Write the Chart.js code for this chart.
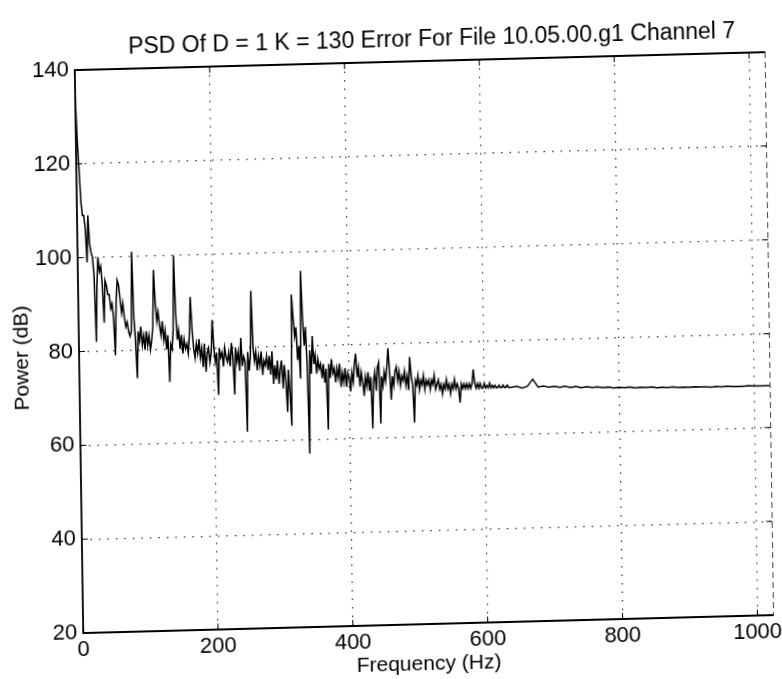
<!DOCTYPE html>
<html>
<head>
<meta charset="utf-8">
<script src="https://cdn.jsdelivr.net/npm/chart.js@4.4.1/dist/chart.umd.min.js"></script>
<style>
  html, body { margin: 0; padding: 0; background: #fff; overflow: hidden; }
  /* the scan is slightly rotated/sheared */
  #wrap { width: 782px; height: 679px; transform: matrix(1, -0.026, 0.015, 1, 0, 0); }
</style>
</head>
<body>
<div id="wrap"><canvas id="chart" width="782" height="679"></canvas></div>
<script>
// PSD, 2 Hz steps from 0 to 638 Hz
const lowStepHz = 2;
const powerLow = [
  134, 125, 119, 112, 109, 109, 106, 99, 109, 103,
  101, 100, 96, 82, 94, 100, 97, 98, 94, 86,
  95, 94, 92, 92, 89, 90, 87, 79, 90, 95,
  94, 91, 88, 90, 87, 85, 86, 84, 83, 84,
  101, 87, 82, 74, 84, 82, 85, 81, 83, 80,
  84, 81, 83, 80, 82, 85, 97, 90, 86, 88,
  85, 83, 86, 82, 84, 80, 83, 73, 81, 80,
  84, 100, 88, 82, 84, 80, 83, 79, 82, 80,
  81, 79, 83, 91, 84, 80, 78, 81, 79, 82,
  78, 80, 76, 81, 75, 79, 80, 77, 79, 86,
  80, 77, 79, 70, 80, 78, 79, 76, 80, 78,
  77, 79, 76, 81, 78, 70, 80, 77, 79, 75,
  82, 76, 78, 77, 62, 79, 75, 78, 92, 80,
  77, 79, 75, 78, 76, 79, 74, 77, 76, 78,
  75, 78, 74, 79, 72, 76, 73, 77, 72, 75,
  77, 71, 76, 73, 66, 75, 70, 63, 91, 86,
  82, 84, 77, 80, 73, 96, 86, 80, 84, 76,
  57, 79, 74, 82, 76, 78, 74, 77, 75, 76,
  73, 76, 72, 75, 62, 76, 73, 77, 74, 75,
  72, 75, 73, 76, 71, 74, 72, 75, 71, 74,
  73, 70, 74, 72, 76, 78, 73, 75, 71, 74,
  72, 69, 73, 71, 74, 70, 73, 62, 72, 74,
  70, 75, 76, 63, 73, 71, 74, 72, 75, 79,
  74, 68, 73, 71, 74, 75, 72, 74, 71, 73,
  72, 74, 71, 73, 70, 77, 73, 71, 63, 72,
  71, 73, 70, 72, 71, 73, 70, 72, 71, 72,
  70, 72, 71, 73, 70, 71, 72, 70, 71, 69,
  71, 70, 72, 70, 71, 69, 71, 70, 72, 70,
  71, 70, 67, 71, 70, 71, 70, 71, 70, 71,
  70, 71, 74, 71, 70, 71, 70, 71, 70, 70,
  71, 70, 70.5, 70, 71, 70, 70.5, 70, 70.5, 70,
  70, 70.5, 70, 70, 70.5, 70, 70, 70.5, 70, 70
];
// flat tail, 8 Hz steps from 640 to 1024 Hz
const highStartHz = 640;
const highStepHz = 8;
const powerHigh = [
  70, 70.2, 69.8, 70.1, 71.6, 69.9, 70.1, 69.8, 70, 69.7,
  69.9, 69.6, 69.8, 69.5, 69.7, 69.5, 69.6, 69.4, 69.5, 69.3,
  69.4, 69.3, 69.4, 69.2, 69.3, 69.2, 69.3, 69.1, 69.2, 69.1,
  69.2, 69.0, 69.1, 69.0, 69.1, 69.0, 69.0, 68.9, 69.0, 68.9,
  69.0, 68.9, 68.9, 68.9, 69.0, 68.9, 68.9, 68.9, 68.9
];
const xTicks = [0, 200, 400, 600, 800, 1000];
const yTicks = [20, 40, 60, 80, 100, 120, 140];

const titleText = 'PSD Of D = 1 K = 130 Error For File 10.05.00.g1 Channel 7';
const xLabel = 'Frequency (Hz)';
const yLabel = 'Power (dB)';

const points = powerLow.map((p, i) => ({x: i * lowStepHz, y: p}))
  .concat(powerHigh.map((p, i) => ({x: highStartHz + i * highStepHz, y: p})));

const FONT = '"Liberation Sans", Arial, sans-serif';

// frame box, inner ticks + titles, matlab style
const decor = {
  id: 'decor',
  afterDatasetsDraw(chart) {
    const {ctx, chartArea: a, scales} = chart;
    ctx.save();
    ctx.strokeStyle = '#000';
    ctx.lineWidth = 1.8;
    ctx.beginPath();
    ctx.moveTo(a.right, a.top);
    ctx.lineTo(a.left, a.top);
    ctx.lineTo(a.left, a.bottom);
    ctx.lineTo(a.right, a.bottom);
    ctx.stroke();
    // inner tick marks
    ctx.lineWidth = 1;
    ctx.beginPath();
    xTicks.forEach(v => {
      const px = scales.x.getPixelForValue(v);
      ctx.moveTo(px, a.bottom); ctx.lineTo(px, a.bottom - 6);
      ctx.moveTo(px, a.top); ctx.lineTo(px, a.top + 6);
    });
    yTicks.forEach(v => {
      const py = scales.y.getPixelForValue(v);
      ctx.moveTo(a.left, py); ctx.lineTo(a.left + 6, py);
      ctx.moveTo(a.right, py); ctx.lineTo(a.right - 6, py);
    });
    ctx.stroke();
    ctx.strokeStyle = '#444';
    ctx.setLineDash([6, 4]);
    ctx.beginPath();
    ctx.moveTo(a.right, a.top);
    ctx.lineTo(a.right, a.bottom);
    ctx.stroke();
    ctx.restore();
  },
  afterDraw(chart) {
    const {ctx, chartArea: a} = chart;
    const cx = (a.left + a.right) / 2;
    ctx.save();
    ctx.fillStyle = '#000';
    ctx.textAlign = 'center';
    ctx.textBaseline = 'middle';
    ctx.font = '23px ' + FONT;
    ctx.fillText(titleText, cx + 12, a.top - 21);
    ctx.font = '21px ' + FONT;
    ctx.fillText(xLabel, cx, a.bottom + 40);
    ctx.translate(22, (a.top + a.bottom) / 2 + 5);
    ctx.rotate(-Math.PI / 2);
    ctx.fillText(yLabel, 0, 0);
    ctx.restore();
  }
};

const gridColor = (ctx) => {
  const v = ctx.tick ? ctx.tick.value : null;
  return (v === 0 || v === 20 || v === 140) ? 'rgba(0,0,0,0)' : '#333';
};

new Chart(document.getElementById('chart'), {
  type: 'line',
  data: {
    datasets: [{
      data: points,
      borderColor: '#000',
      borderWidth: 1.5,
      pointRadius: 0,
      tension: 0,
      fill: false
    }]
  },
  options: {
    responsive: false,
    animation: false,
    layout: {padding: {top: 62, right: 7, left: 0, bottom: 0}},
    plugins: {legend: {display: false}, tooltip: {enabled: false}},
    scales: {
      x: {
        type: 'linear',
        min: 0,
        max: 1024,
        afterBuildTicks: (s) => { s.ticks = xTicks.map(v => ({value: v})); },
        afterFit: (s) => { s.height = 54; },
        ticks: {color: '#000', font: {family: FONT, size: 22}, padding: 4, maxRotation: 0,
                callback: (v) => String(v)},
        grid: {color: gridColor, lineWidth: 1.2, drawTicks: false},
        border: {display: false, dash: [1.5, 7]}
      },
      y: {
        min: 20,
        max: 140,
        afterBuildTicks: (s) => { s.ticks = yTicks.map(v => ({value: v})); },
        afterFit: (s) => { s.width = 79; },
        ticks: {color: '#000', font: {family: FONT, size: 22}, padding: 6},
        grid: {color: gridColor, lineWidth: 1.2, drawTicks: false},
        border: {display: false, dash: [1.5, 7]}
      }
    }
  },
  plugins: [decor]
});
</script>
</body>
</html>
